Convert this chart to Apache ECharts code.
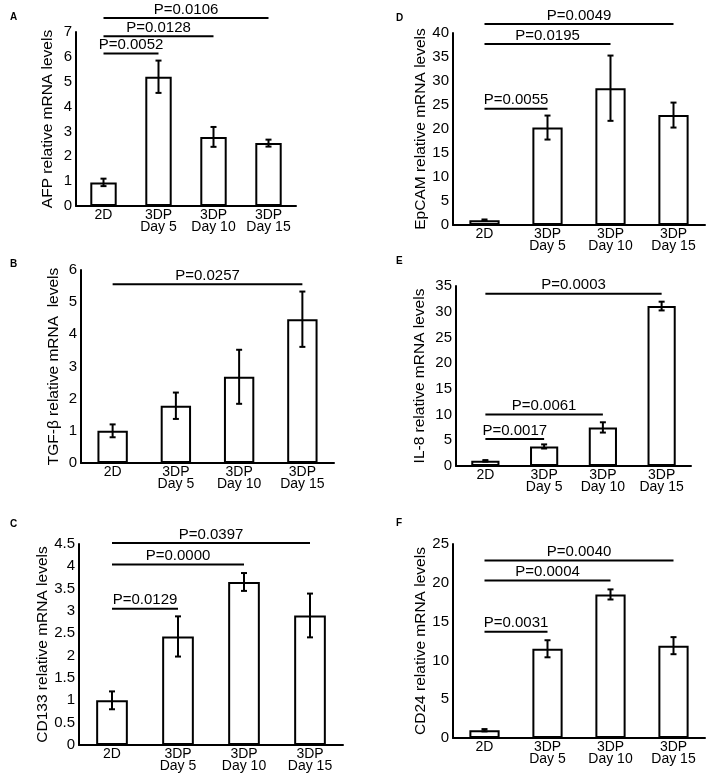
<!DOCTYPE html>
<html><head><meta charset="utf-8">
<script src="https://cdn.jsdelivr.net/npm/echarts@6/dist/echarts.min.js"></script>
<style>html,body{margin:0;padding:0;background:#fff}#c{width:708px;height:781px}</style>
</head><body><div id="c"></div>
<script>
const categories = ['2D', '3DP\nDay 5', '3DP\nDay 10', '3DP\nDay 15'];

// A: AFP
const afpMean = [0.95, 5.2, 2.78, 2.53];
const afpErr = [0.15, 0.65, 0.4, 0.14];
const afpBrackets = [
  {label: 'P=0.0106', from: 0, to: 3, y: 7.56},
  {label: 'P=0.0128', from: 0, to: 2, y: 6.83},
  {label: 'P=0.0052', from: 0, to: 1, y: 6.14}
];
// B: TGF-β
const tgfMean = [1.0, 1.78, 2.68, 4.47];
const tgfErr = [0.2, 0.41, 0.84, 0.86];
const tgfBrackets = [
  {label: 'P=0.0257', from: 0, to: 3, y: 5.56}
];
// C: CD133
const cd133Mean = [1.0, 2.43, 3.65, 2.9];
const cd133Err = [0.2, 0.45, 0.2, 0.49];
const cd133Brackets = [
  {label: 'P=0.0397', from: 0, to: 3, y: 4.52},
  {label: 'P=0.0000', from: 0, to: 2, y: 4.04},
  {label: 'P=0.0129', from: 0, to: 1, y: 3.05}
];
// D: EpCAM
const epcamMean = [1.0, 20.3, 28.5, 22.9];
const epcamErr = [0.15, 2.5, 6.8, 2.6];
const epcamBrackets = [
  {label: 'P=0.0049', from: 0, to: 3, y: 41.9},
  {label: 'P=0.0195', from: 0, to: 2, y: 37.7},
  {label: 'P=0.0055', from: 0, to: 1, y: 24.2}
];
// E: IL-8
const il8Mean = [1.0, 3.8, 7.5, 31.1];
const il8Err = [0.15, 0.4, 1.0, 0.85];
const il8Brackets = [
  {label: 'P=0.0003', from: 0, to: 3, y: 33.5},
  {label: 'P=0.0061', from: 0, to: 2, y: 10.0},
  {label: 'P=0.0017', from: 0, to: 1, y: 5.24}
];
// F: CD24
const cd24Mean = [1.0, 11.5, 18.5, 11.9];
const cd24Err = [0.15, 1.1, 0.65, 1.1];
const cd24Brackets = [
  {label: 'P=0.0040', from: 0, to: 3, y: 22.86},
  {label: 'P=0.0004', from: 0, to: 2, y: 20.3},
  {label: 'P=0.0031', from: 0, to: 1, y: 13.7}
];

const yNames = ['AFP relative mRNA levels', 'TGF-β relative mRNA  levels', 'CD133 relative mRNA levels',
  'EpCAM relative mRNA levels', 'IL-8 relative mRNA levels', 'CD24 relative mRNA levels'];
const yMax = [7, 6, 4.5, 40, 35, 25];
const yInterval = [1, 1, 0.5, 5, 5, 5];
const panelLetters = ['A', 'B', 'C', 'D', 'E', 'F'];

const FONT = "'Liberation Sans', Arial, sans-serif";
const means = [afpMean, tgfMean, cd133Mean, epcamMean, il8Mean, cd24Mean];
const errs = [afpErr, tgfErr, cd133Err, epcamErr, il8Err, cd24Err];
const brackets = [afpBrackets, tgfBrackets, cd133Brackets, epcamBrackets, il8Brackets, cd24Brackets];

const grids = [
  {left: 76, top: 32, width: 220, height: 174},
  {left: 81, top: 270, width: 253, height: 193},
  {left: 79, top: 544, width: 264, height: 201},
  {left: 453, top: 33, width: 252, height: 192},
  {left: 456, top: 286, width: 235, height: 180},
  {left: 453, top: 544, width: 252, height: 194}
];
const nameGaps = [20, 19, 25, 24, 28, 24];
const letterPos = [[10, 12], [10, 259], [10, 519], [396, 13], [396, 256], [396, 518]];

function errRender(params, api) {
  const x = api.value(0), m = api.value(1), e = api.value(2);
  const t = api.coord([x, m + e]), b = api.coord([x, m - e]);
  const cw = 3;
  const st = {stroke: '#000', lineWidth: 2};
  return {type: 'group', children: [
    {type: 'line', shape: {x1: t[0], y1: t[1], x2: b[0], y2: b[1]}, style: st},
    {type: 'line', shape: {x1: t[0] - cw, y1: t[1], x2: t[0] + cw, y2: t[1]}, style: st},
    {type: 'line', shape: {x1: b[0] - cw, y1: b[1], x2: b[0] + cw, y2: b[1]}, style: st}
  ]};
}

function makeBracketRender(list) {
  return function (params, api) {
    const br = list[params.dataIndex];
    const p1 = api.coord([br.from, br.y]);
    const p2 = api.coord([br.to, br.y]);
    return {type: 'group', children: [
      {type: 'line', shape: {x1: p1[0], y1: p1[1], x2: p2[0], y2: p2[1]}, style: {stroke: '#000', lineWidth: 2}},
      {type: 'text', style: {text: br.label, x: (p1[0] + p2[0]) / 2, y: p1[1] - 1, align: 'center', verticalAlign: 'bottom',
        fontSize: 15, fontFamily: FONT, fill: '#000'}}
    ]};
  };
}

const option = {
  backgroundColor: '#fff',
  animation: false,
  textStyle: {fontFamily: FONT},
  title: panelLetters.map((l, i) => ({text: l, left: letterPos[i][0], top: letterPos[i][1], padding: 0,
    textStyle: {fontSize: 10, fontWeight: 'bold', color: '#000', fontFamily: FONT}})),
  grid: grids.map(g => Object.assign({containLabel: false}, g)),
  xAxis: grids.map((g, i) => ({
    type: 'category', gridIndex: i, data: categories,
    axisLine: {lineStyle: {color: '#000', width: 2}},
    axisTick: {show: false},
    axisLabel: {color: '#000', fontSize: 14, fontFamily: FONT, margin: 3, lineHeight: 12, interval: 0}
  })),
  yAxis: grids.map((g, i) => ({
    type: 'value', gridIndex: i, min: 0, max: yMax[i], interval: yInterval[i],
    name: yNames[i], nameLocation: 'middle', nameGap: nameGaps[i],
    nameTextStyle: {color: '#000', fontSize: 15.5, fontFamily: FONT},
    axisLine: {show: true, lineStyle: {color: '#000', width: 2}},
    axisTick: {show: false},
    splitLine: {show: false},
    axisLabel: {color: '#000', fontSize: 15, fontFamily: FONT, margin: 4}
  })),
  series: []
};

for (let i = 0; i < 6; i++) {
  option.series.push({
    type: 'bar', xAxisIndex: i, yAxisIndex: i, data: means[i], barWidth: '48%',
    itemStyle: {color: '#fff', borderColor: '#000', borderWidth: 2}
  });
  option.series.push({
    type: 'custom', xAxisIndex: i, yAxisIndex: i, renderItem: errRender, z: 5,
    data: means[i].map((m, k) => [k, m, errs[i][k]])
  });
  option.series.push({
    type: 'custom', xAxisIndex: i, yAxisIndex: i, renderItem: makeBracketRender(brackets[i]), clip: false, z: 5,
    data: brackets[i].map(b => [b.from, b.y, b.to])
  });
}

const chart = echarts.init(document.getElementById('c'), null, {renderer: 'canvas'});
chart.setOption(option);
</script></body></html>
